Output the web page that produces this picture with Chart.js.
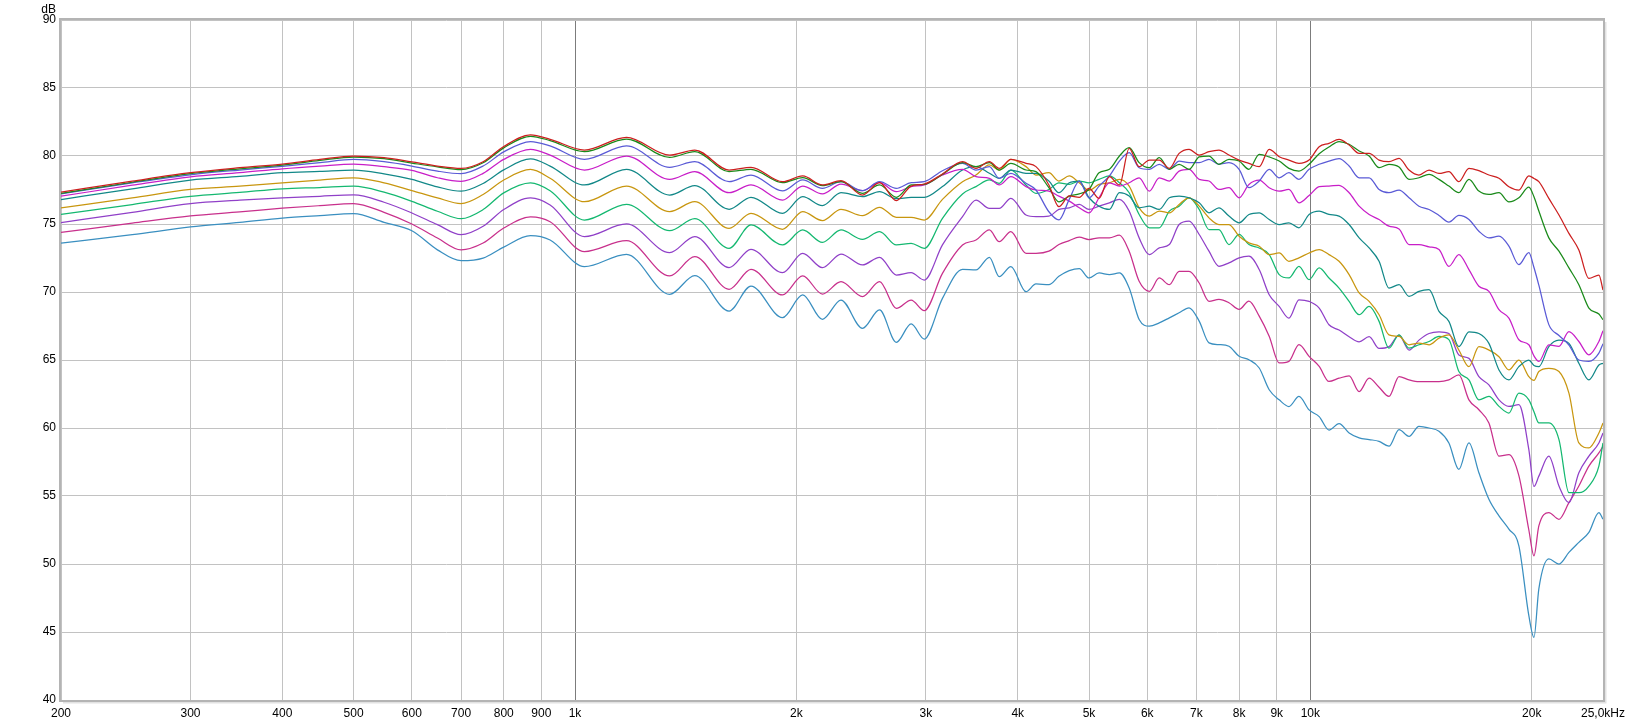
<!DOCTYPE html>
<html lang="en">
<head>
    <meta charset="UTF-8">
    <title>Frequency response</title>
    <style>
        body {
            margin: 0;
            background: #fff;
        }

        #wrap {
            width: 1633px;
            height: 726px;
        }
    </style>
</head>
<body>
    <div id="wrap"><canvas id="chart" width="1633" height="726"></canvas></div>
    <script src="https://cdn.jsdelivr.net/npm/chart.js"></script>
    <script>
        // frequency points (Hz), shared by all curves
        const freqHz = [
            200, 250, 300, 350, 400, 450, 500, 550, 600, 650, 700, 750, 800, 870, 925,
            1030, 1175, 1345, 1455, 1620, 1735, 1915, 2040, 2170, 2300, 2460, 2595, 2735, 2865, 2985,
            3160, 3365, 3510, 3660, 3775, 3915, 4105, 4235,
            4410, 4550, 4700, 4850, 5000, 5160, 5330, 5500, 5670, 5850, 6040, 6230, 6430, 6630, 6840,
            7060, 7280, 7510, 7750, 8000, 8250, 8520, 8790, 9070, 9350, 9650, 9960, 10280, 10600, 10940,
            11290, 11650, 12020, 12400, 12790, 13200, 13620, 14050, 14500, 14960, 15430, 15920, 16430,
            16950, 17490, 18050, 18620, 19210, 19820, 20140, 20450, 21100, 21780, 22470, 23180, 23920,
            24680, 25000
        ];

        // levels (dB) per curve, top to bottom
        const redDb = [
            77.34, 78.15, 78.77, 79.14, 79.41, 79.75, 80.0, 79.88, 79.56, 79.26, 79.09, 79.58, 80.7, 81.55, 81.23,
            80.44, 81.37, 80.07, 80.44, 78.97, 79.17, 78.11, 78.53, 77.87, 78.19, 77.13, 78.04, 76.72, 77.79, 77.94,
            78.68, 79.58, 79.09, 79.58, 79.09, 79.75, 79.46, 79.22,
            77.87, 76.27, 77.06, 76.96, 77.62, 76.89, 78.48, 77.87, 80.56, 79.21, 79.7, 79.7, 79.09, 80.19, 80.49,
            80.07, 80.32, 80.44, 80.07, 79.7, 79.46, 79.21, 80.49, 79.95, 79.7, 79.46, 79.7, 80.68, 80.93, 81.22,
            80.81, 80.19, 80.19, 79.7, 79.58, 79.83, 78.97, 78.6, 78.97, 78.72, 78.85, 78.11, 79.09,
            78.92, 78.6, 78.36, 77.74, 77.5, 78.53, 78.35, 78.11, 76.88, 75.66, 74.31, 73.09, 71.0,
            71.25, 70.15
        ];
        const greenDb = [
            77.25, 78.07, 78.7, 79.06, 79.33, 79.67, 79.92, 79.8, 79.48, 79.2, 79.0, 79.5, 80.6, 81.45, 81.13,
            80.32, 81.25, 79.9, 80.32, 78.85, 79.02, 78.04, 78.41, 77.82, 78.11, 77.25, 77.87, 76.96, 77.87, 77.92,
            78.65, 79.51, 79.22, 79.51, 78.97, 79.46, 78.97, 78.85,
            77.67, 76.63, 77.05, 77.22, 77.54, 78.77, 79.02, 80.0, 80.61, 79.51, 79.14, 79.88, 79.02, 79.39, 79.02,
            79.93, 80.0, 79.39, 79.75, 79.63, 79.02, 80.12, 79.93, 79.63, 79.09, 78.89, 79.39, 80.17, 80.66, 81.06,
            80.86, 80.37, 80.0, 79.14, 79.39, 79.19, 78.28, 78.4, 78.65, 78.28, 77.79, 77.3, 78.28,
            77.42, 77.17, 77.3, 76.63, 76.93, 77.71, 77.0, 75.95, 73.98, 73.0, 71.77, 70.54, 68.82,
            68.38, 67.96
        ];
        const blueDb = [
            77.22, 78.03, 78.62, 78.97, 79.24, 79.51, 79.75, 79.58, 79.26, 78.89, 78.7, 79.26, 80.3, 81.06, 80.74,
            79.75, 80.74, 79.17, 79.58, 78.11, 78.6, 77.43, 78.24, 77.62, 78.11, 77.45, 78.11, 77.62, 78.04, 78.11,
            78.92, 79.46, 78.97, 79.22, 78.36, 78.73, 77.99, 77.5,
            75.9, 75.3, 76.81, 78.16, 76.93, 77.79, 78.53, 79.63, 80.25, 79.14, 79.02, 79.39, 79.02, 79.63, 79.51,
            79.51, 79.75, 79.39, 79.51, 79.02, 77.67, 78.16, 79.02, 78.4, 78.77, 78.28, 79.02, 79.39, 79.63, 79.8,
            79.26, 78.4, 78.4, 77.54, 77.3, 77.49, 76.93, 76.31, 76.07, 75.63, 75.14, 75.63, 75.33,
            74.47, 73.98, 74.1, 73.37, 72.01, 72.9, 71.8, 70.5, 67.6, 66.8, 66.1, 65.0, 64.9,
            65.5, 66.2
        ];
        const magentaDb = [
            77.04, 77.86, 78.47, 78.77, 79.06, 79.26, 79.41, 79.21, 78.94, 78.4, 78.13, 78.72, 79.75, 80.49, 80.07,
            78.97, 80.0, 78.28, 78.85, 77.3, 77.87, 76.76, 77.79, 77.21, 77.94, 77.45, 78.04, 77.38, 77.75, 77.87,
            78.6, 79.02, 78.48, 78.36, 77.87, 78.48, 77.75, 77.5,
            77.42, 77.05, 76.68, 76.19, 75.82, 76.93, 78.03, 77.79, 78.03, 78.4, 77.42, 78.4, 78.16, 78.89, 79.02,
            78.28, 78.16, 77.54, 77.67, 76.93, 77.91, 78.23, 77.67, 77.42, 77.54, 76.56, 77.1, 77.74, 77.79, 77.84,
            77.3, 76.31, 75.7, 75.33, 74.84, 74.64, 73.49, 73.49, 73.32, 73.12, 71.89, 72.75, 71.65,
            70.42, 70.05, 68.7, 68.08, 66.49, 66.12, 65.3, 64.89, 66.12, 66.0, 67.08, 66.36, 65.38,
            66.36, 67.15
        ];
        const tealDb = [
            76.8, 77.59, 78.23, 78.5, 78.77, 78.87, 78.97, 78.69, 78.28, 77.73, 77.41, 77.98, 78.98, 79.78, 79.26,
            77.87, 79.02, 77.13, 77.82, 76.08, 76.96, 75.78, 77.01, 76.35, 77.3, 77.01, 77.38, 76.86, 76.96, 76.96,
            77.75, 78.97, 79.22, 78.73, 78.36, 78.97, 78.73, 78.73,
            78.16, 77.3, 78.03, 78.16, 76.93, 76.31, 76.07, 77.3, 77.05, 76.19, 76.31, 76.07, 76.93, 77.05, 76.93,
            76.56, 75.82, 76.19, 75.58, 75.09, 75.7, 75.82, 75.33, 74.96, 75.09, 74.72, 75.7, 75.95, 75.7, 75.58,
            74.96, 73.98, 73.24, 72.26, 70.29, 70.54, 69.68, 70.05, 70.17, 68.57, 67.84, 65.98, 67.07,
            66.95, 66.22, 64.27, 63.54, 64.51, 65.0, 64.6, 64.51, 65.98, 66.46, 66.22, 64.76, 63.54,
            64.63, 64.76
        ];
        const goldDb = [
            76.18, 76.92, 77.54, 77.78, 78.03, 78.23, 78.4, 78.03, 77.46, 76.92, 76.5, 77.17, 78.23, 79.01, 78.36,
            76.64, 77.79, 75.91, 76.64, 74.68, 75.78, 74.61, 75.91, 75.25, 76.08, 75.61, 76.23, 75.49, 75.49, 75.29,
            76.81, 78.11, 78.6, 79.34, 78.97, 79.75, 79.22, 78.6,
            78.77, 78.16, 78.53, 78.03, 77.47, 77.91, 78.03, 78.28, 77.79, 76.19, 75.58, 75.95, 75.82, 76.44, 76.93,
            76.31, 75.45, 74.96, 74.96, 74.1, 73.61, 73.37, 72.75, 72.87, 72.26, 72.51, 72.87, 73.12, 72.75, 72.26,
            71.28, 69.93, 69.31, 68.33, 66.85, 66.73, 66.12, 66.24, 66.12, 66.61, 66.85, 65.73, 64.51,
            65.98, 65.73, 65.24, 64.27, 65.0, 63.78, 63.5, 64.15, 64.39, 64.15, 62.56, 58.9, 58.54,
            59.63, 60.37
        ];
        const springDb = [
            75.71, 76.43, 77.04, 77.32, 77.59, 77.68, 77.78, 77.34, 76.67, 75.94, 75.39, 76.06, 77.29, 78.03, 77.45,
            75.29, 76.45, 74.51, 75.39, 73.21, 74.93, 73.46, 74.56, 73.65, 74.56, 73.87, 74.44, 73.46, 73.58, 73.21,
            75.42, 77.21, 77.75, 78.24, 77.99, 78.97, 77.87, 77.25,
            77.54, 78.03, 77.91, 78.16, 78.03, 78.28, 78.53, 78.03, 77.3, 75.7, 74.72, 74.72, 75.95, 76.31, 76.93,
            76.07, 74.59, 74.59, 73.49, 74.23, 73.49, 73.24, 72.75, 71.28, 71.03, 71.89, 70.91, 71.77, 71.03, 70.29,
            69.31, 68.33, 68.94, 67.84, 65.87, 66.85, 65.87, 66.12, 66.36, 66.73, 66.5, 64.15, 63.54,
            62.07, 62.32, 61.59, 61.1, 62.56, 62.07, 61.2, 60.37, 60.37, 59.15, 55.24, 55.24, 55.73,
            57.2, 58.9
        ];
        const purpleDb = [
            75.1, 75.86, 76.5, 76.75, 76.92, 77.04, 77.14, 76.6, 75.81, 74.95, 74.21, 74.83, 76.06, 76.92, 76.4,
            74.07, 75.0, 72.89, 74.07, 71.79, 73.14, 71.42, 72.84, 71.79, 72.79, 71.99, 72.55, 71.25, 71.42, 70.88,
            73.46, 75.54, 76.76, 76.15, 76.15, 76.89, 75.66, 75.54,
            75.58, 76.07, 76.19, 76.44, 76.07, 76.31, 76.56, 76.81, 75.95, 73.98, 72.75, 73.24, 73.49, 74.96, 75.21,
            74.23, 73.0, 71.89, 72.14, 72.51, 72.63, 71.65, 69.8, 68.94, 68.08, 69.43, 69.31, 68.82, 67.59, 67.2,
            66.71, 66.34, 66.71, 65.85, 65.98, 66.83, 65.73, 66.46, 66.95, 67.07, 66.95, 65.37, 65.12,
            63.78, 63.17, 62.07, 61.59, 61.71, 58.41, 55.7, 56.46, 57.93, 55.73, 54.51, 56.71, 57.93,
            58.9, 59.63
        ];
        const pinkDb = [
            74.38, 75.07, 75.6, 75.89, 76.16, 76.35, 76.5, 75.86, 75.0, 73.97, 73.1, 73.6, 74.7, 75.52, 75.17,
            72.97, 73.77, 71.18, 72.6, 70.2, 71.67, 69.78, 71.18, 69.85, 70.76, 69.66, 70.76, 68.8, 69.41, 68.63,
            71.37, 73.46, 73.82, 74.56, 73.7, 74.44, 72.84, 72.84,
            73.0, 73.49, 73.78, 74.03, 73.86, 73.98, 73.98, 74.18, 73.0, 70.79, 70.05, 71.03, 70.54, 71.52, 71.52,
            70.66, 69.31, 69.46, 69.21, 68.72, 69.33, 68.23, 66.75, 64.78, 64.9, 66.13, 65.27, 64.53, 63.42, 63.66,
            63.83, 62.68, 63.66, 63.0, 62.32, 63.78, 63.54, 63.41, 63.41, 63.41, 63.54, 63.9, 62.07,
            61.34, 60.37, 57.93, 58.05, 56.5, 52.5, 50.6, 52.8, 53.78, 53.29, 54.51, 55.73, 57.2,
            58.17, 58.66
        ];
        const steelDb = [
            73.6, 74.21, 74.78, 75.12, 75.44, 75.62, 75.76, 75.12, 74.5, 73.1, 72.3, 72.49, 73.3, 74.14, 73.82,
            71.86, 72.77, 69.83, 71.2, 68.6, 70.44, 68.11, 69.78, 67.99, 69.41, 67.33, 68.68, 66.3, 67.65, 66.54,
            69.53, 71.67, 71.62, 72.55, 71.13, 71.86, 70.02, 70.59,
            70.54, 71.15, 71.57, 71.72, 71.03, 71.4, 71.28, 71.4, 70.29, 67.98, 67.49, 67.73, 68.1, 68.47, 68.84,
            67.86, 66.26, 66.13, 66.01, 65.27, 65.02, 64.41, 62.81, 62.07, 61.58, 62.32, 61.33, 60.84, 59.85, 60.32,
            59.63, 59.27, 59.15, 59.02, 58.66, 59.88, 59.39, 60.12, 60.0, 59.76, 58.9, 56.95, 58.9,
            56.71, 54.76, 53.54, 52.56, 51.34, 46.2, 44.6, 48.17, 50.37, 50.0, 50.85, 51.59, 52.32,
            53.78, 53.29
        ];

        const curves = [
            { name: 'red', values: redDb, color: '#cc1f1f' },
            { name: 'green', values: greenDb, color: '#1a8a1a' },
            { name: 'blue', values: blueDb, color: '#5a5ad6' },
            { name: 'magenta', values: magentaDb, color: '#c81ec8' },
            { name: 'teal', values: tealDb, color: '#128888' },
            { name: 'gold', values: goldDb, color: '#c8960f' },
            { name: 'spring', values: springDb, color: '#14b870' },
            { name: 'purple', values: purpleDb, color: '#9040c8' },
            { name: 'pink', values: pinkDb, color: '#c8308c' },
            { name: 'steel', values: steelDb, color: '#3a8fc0' }
        ];

        const xTickValues = [200, 300, 400, 500, 600, 700, 800, 900, 1000, 2000, 3000, 4000, 5000,
            6000, 7000, 8000, 9000, 10000, 20000, 25000];
        const xTickLabels = ['200', '300', '400', '500', '600', '700', '800', '900', '1k', '2k', '3k', '4k', '5k',
            '6k', '7k', '8k', '9k', '10k', '20k', '25,0kHz'];
        const yMin = 40, yMax = 90, yStep = 5;

        const fontFamily = '"Liberation Sans Narrow", "Liberation Sans", Arial, sans-serif';

        // gray frame round the plot + "dB" unit label
        const framePlugin = {
            id: 'frame',
            afterDraw(chart) {
                const { ctx, chartArea: a } = chart;
                ctx.save();
                ctx.strokeStyle = '#e2e2e2';
                ctx.lineWidth = 2;
                ctx.beginPath();
                ctx.moveTo(a.right + 2.5, a.top + 2);
                ctx.lineTo(a.right + 2.5, a.bottom + 2.5);
                ctx.lineTo(a.left + 2, a.bottom + 2.5);
                ctx.stroke();
                ctx.strokeStyle = '#b4b4b4';
                ctx.lineWidth = 2;
                ctx.strokeRect(a.left - 1, a.top - 1, a.right - a.left + 2, a.bottom - a.top + 2);
                ctx.fillStyle = '#000';
                ctx.font = '12px ' + fontFamily;
                ctx.textAlign = 'right';
                ctx.textBaseline = 'middle';
                ctx.fillText('dB', 56, 10);
                ctx.restore();
            }
        };

        new Chart(document.getElementById('chart'), {
            type: 'line',
            data: {
                datasets: curves.map(c => ({
                    label: c.name,
                    data: freqHz.map((f, i) => ({ x: f, y: c.values[i] })),
                    borderColor: c.color,
                    borderWidth: 1.25,
                    pointRadius: 0,
                    fill: false,
                    cubicInterpolationMode: 'monotone'
                }))
            },
            options: {
                responsive: false,
                devicePixelRatio: 1,
                animation: false,
                layout: { padding: { top: 20, right: 30, left: 0, bottom: 0 } },
                plugins: {
                    legend: { display: false },
                    tooltip: { enabled: false }
                },
                scales: {
                    x: {
                        type: 'logarithmic',
                        min: 200,
                        max: 25000,
                        afterBuildTicks: scale => {
                            scale.ticks = xTickValues.map(v => ({ value: v }));
                        },
                        afterFit: scale => { scale.height = 26; },
                        ticks: {
                            autoSkip: false,
                            maxRotation: 0,
                            padding: 6,
                            color: '#000',
                            font: { family: fontFamily, size: 12 },
                            callback: value => xTickLabels[xTickValues.indexOf(value)]
                        },
                        grid: {
                            drawTicks: false,
                            color: c => (c.tick && (c.tick.value === 1000 || c.tick.value === 10000)) ? '#7c7c7c' : '#c2c2c2',
                            lineWidth: 1
                        },
                        border: { display: false }
                    },
                    y: {
                        min: yMin,
                        max: yMax,
                        afterFit: scale => { scale.width = 61; },
                        ticks: {
                            stepSize: yStep,
                            padding: 5,
                            color: '#000',
                            font: { family: fontFamily, size: 12 }
                        },
                        grid: {
                            drawTicks: false,
                            color: '#c2c2c2',
                            lineWidth: 1
                        },
                        border: { display: false }
                    }
                }
            },
            plugins: [framePlugin]
        });
    </script>
</body>
</html>
